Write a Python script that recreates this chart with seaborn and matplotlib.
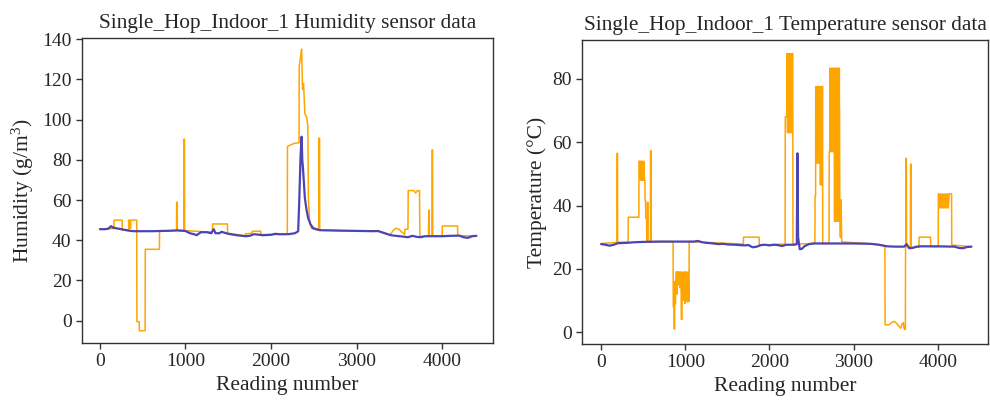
import matplotlib
matplotlib.use("Agg")
import matplotlib.pyplot as plt
import seaborn as sns
import pandas as pd

# Humidity: raw sensor readings (orange) as (reading, value) points
hum_raw = [
    (0, 45.5), (150, 45.8), (165, 45.8), (165, 50), (260, 50), (260, 45),
    (335, 44.8), (335, 50), (345, 50), (345, 46), (360, 46), (360, 50),
    (430, 50), (432, -0.5), (460, -0.5), (460, -5), (528, -5), (530, 35.5),
    (695, 35.5), (697, 44.6), (895, 44.8), (897, 58.9), (903, 58.9),
    (905, 44.9), (980, 44.9), (982, 90.3), (988, 90.3), (990, 44.8),
    (1315, 44), (1317, 48.1), (1490, 48.1), (1492, 43.5), (1700, 42.2),
    (1700, 43.2), (1780, 43.5), (1780, 44.5), (1880, 44.5), (1880, 42.8),
    (2190, 43), (2192, 86.7), (2260, 88), (2300, 88.4), (2327, 88.4),
    (2329, 126.6), (2345, 131), (2357, 135), (2368, 115), (2380, 118),
    (2395, 103), (2415, 101.5), (2430, 97), (2437, 60), (2450, 50),
    (2470, 46), (2500, 45.5), (2557, 45), (2559, 90.8), (2567, 90.8),
    (2569, 45), (2800, 44.8), (3200, 44.5), (3250, 44.6), (3390, 42.6),
    (3430, 45), (3460, 46), (3500, 45.3), (3530, 44), (3560, 43),
    (3565, 45.5), (3600, 45.5), (3603, 64.7), (3670, 64.7), (3690, 63.5),
    (3710, 64.7), (3735, 64.7), (3739, 42), (3840, 42), (3843, 55),
    (3848, 55), (3850, 42), (3880, 42), (3883, 85), (3887, 85), (3890, 42),
    (4000, 42), (4002, 47.1), (4180, 47.1), (4182, 42.3), (4400, 42.2),
]

# Humidity: reference / filtered series (blue)
hum_ref = [
    (0, 45.5), (60, 45.5), (100, 45.8), (130, 47), (160, 46.2), (250, 45.5),
    (350, 44.7), (400, 44.5), (600, 44.5), (800, 44.7), (900, 44.9),
    (1000, 44.6), (1050, 43.5), (1100, 43), (1130, 42.5), (1180, 44),
    (1250, 44), (1300, 43.5), (1330, 45.5), (1350, 43.5), (1400, 43.5),
    (1420, 44.2), (1500, 43.2), (1600, 42.5), (1700, 42), (1750, 42.2),
    (1800, 43), (1850, 42.8), (1900, 42.5), (2000, 42.7), (2050, 43.2),
    (2100, 43), (2200, 43), (2280, 43.5), (2317, 44.5), (2330, 60),
    (2345, 82), (2357, 91.5), (2365, 80), (2376, 74), (2395, 61),
    (2415, 55), (2434, 51), (2460, 48), (2492, 46), (2570, 45),
    (2800, 44.8), (3200, 44.5), (3250, 44.6), (3400, 42.5), (3500, 42),
    (3550, 41.8), (3600, 41.5), (3650, 42.2), (3700, 41.7), (3750, 41.5),
    (3800, 42), (3900, 42), (4000, 42), (4100, 42.2), (4200, 42.3),
    (4250, 41.5), (4300, 41.2), (4350, 42), (4400, 42.2),
]

# Temperature: raw sensor readings (orange)
temp_raw = [
    (0, 28), (188, 28.3), (190, 56.5), (194, 56.5), (196, 28.4), (320, 28.4),
    (322, 36.3), (448, 36.3), (450, 54), (458, 54), (460, 48.5), (464, 54),
    (472, 48), (478, 54), (486, 48), (492, 54), (500, 48), (506, 54),
    (514, 48), (520, 48), (522, 41.5), (528, 41.5), (530, 36), (540, 36),
    (542, 29), (548, 29), (550, 41), (556, 41), (558, 28.6), (585, 28.6),
    (587, 57.3), (592, 57.3), (594, 28.6), (855, 28.6), (857, 8), (865, 8),
    (867, 1), (873, 1), (875, 16), (880, 16), (882, 9), (890, 19), (900, 19),
    (902, 12), (910, 19), (918, 15), (925, 19), (935, 19), (937, 14),
    (945, 19), (950, 16), (953, 4), (960, 4), (963, 15), (970, 19),
    (978, 10), (986, 19), (994, 9), (1002, 19), (1010, 10), (1018, 19),
    (1026, 9.5), (1034, 19), (1040, 9.7), (1044, 9.7), (1046, 28.6),
    (1690, 27.8), (1692, 30), (1877, 30), (1879, 27.5), (2186, 27.8),
    (2188, 68), (2205, 68), (2207, 88), (2215, 63), (2223, 88), (2231, 63),
    (2239, 88), (2247, 63), (2255, 88), (2263, 63), (2271, 88), (2277, 88),
    (2279, 27.8), (2540, 28), (2542, 43), (2548, 43), (2550, 77.6),
    (2558, 53.4), (2566, 77.6), (2574, 53.4), (2582, 77.6), (2590, 53.4),
    (2598, 77.6), (2606, 46.5), (2614, 77.6), (2622, 46.5), (2628, 77.6),
    (2631, 77.6), (2633, 28), (2708, 28), (2710, 57), (2716, 57),
    (2718, 83.4), (2726, 57), (2734, 83.4), (2742, 57), (2750, 83.4),
    (2758, 57), (2766, 83.4), (2774, 35), (2782, 83.4), (2790, 35),
    (2798, 83.4), (2806, 35), (2814, 83.4), (2822, 35), (2828, 83.4),
    (2831, 83.4), (2831, 71), (2833, 71), (2835, 41.8), (2843, 30),
    (2850, 41.8), (2857, 30), (2859, 28.5), (3200, 27.9), (3300, 27.6),
    (3372, 27.2), (3374, 2.3),
    (3420, 2.3), (3450, 3), (3480, 3.4), (3510, 2.8), (3540, 1.8),
    (3560, 1.2), (3575, 2.5), (3590, 3), (3600, 1.2), (3610, 0.8),
    (3615, 0.8), (3617, 27.4), (3621, 27.4), (3623, 54.9), (3627, 54.9),
    (3629, 27), (3675, 27), (3677, 53.1), (3681, 53.1), (3683, 26.8),
    (3776, 26.8), (3778, 30), (3914, 30), (3916, 27), (4005, 27),
    (4007, 43.7), (4015, 43.7), (4025, 39.2), (4035, 43.7), (4045, 39.2),
    (4055, 43.7), (4065, 39.2), (4075, 43.7), (4085, 39.2), (4095, 43.7),
    (4105, 39.2), (4115, 43.7), (4125, 39.2), (4135, 43.7), (4164, 43.7),
    (4166, 27.5), (4400, 27),
]

# Temperature: reference / filtered series (blue)
temp_ref = [
    (0, 27.8), (50, 27.6), (100, 27.3), (150, 27.6), (200, 28.1),
    (300, 28.2), (400, 28.4), (500, 28.5), (700, 28.6), (900, 28.6),
    (1100, 28.6), (1150, 28.8), (1200, 28.4), (1250, 28.2), (1300, 28.1),
    (1400, 27.8), (1450, 27.9), (1500, 27.7), (1600, 27.6), (1700, 27.4),
    (1750, 27.5), (1800, 26.8), (1850, 27), (1900, 27.5), (1950, 27.6),
    (2000, 27.4), (2050, 27.6), (2100, 27.5), (2150, 27.2), (2200, 27.6),
    (2300, 27.6), (2325, 27.8), (2332, 56.5), (2340, 30), (2360, 26.2),
    (2384, 26.3), (2420, 27.2), (2470, 27.8), (2520, 28), (2700, 28),
    (3000, 28), (3200, 27.9), (3300, 27.6), (3400, 27.1), (3500, 27),
    (3600, 27), (3630, 27.8), (3660, 26.5), (3700, 26.6), (3750, 27),
    (3800, 27.1), (4000, 27.1), (4200, 27), (4250, 26.6), (4300, 26.5),
    (4350, 26.9), (4400, 27),
]

raw_color = "#FFA500"
ref_color = "#4A44B4"

sns.set_theme(style="ticks")
plt.rcParams["font.family"] = ["Liberation Serif", "DejaVu Serif"]
plt.rcParams["axes.edgecolor"] = "#333333"

fig = plt.figure(figsize=(9.9, 4.04), dpi=100)
ax1 = fig.add_axes([0.0828, 0.151, 0.415, 0.755])
ax2 = fig.add_axes([0.588, 0.149, 0.410, 0.752])


def draw(ax, raw, ref):
    df_raw = pd.DataFrame(raw, columns=["reading", "value"])
    df_ref = pd.DataFrame(ref, columns=["reading", "value"])
    sns.lineplot(data=df_raw, x="reading", y="value", ax=ax, sort=False,
                 estimator=None, color=raw_color, linewidth=1.1)
    sns.lineplot(data=df_ref, x="reading", y="value", ax=ax, sort=False,
                 estimator=None, color=ref_color, linewidth=1.6)


draw(ax1, hum_raw, hum_ref)
ax1.set_xlim(-210, 4592)
ax1.set_ylim(-11.1, 140.6)
ax1.set_yticks([0, 20, 40, 60, 80, 100, 120, 140])
ax1.set_xticks([0, 1000, 2000, 3000, 4000])
ax1.set_title("Single_Hop_Indoor_1 Humidity sensor data", fontsize=15.3, pad=7)
ax1.set_xlabel("Reading number", fontsize=15.5)
ax1.set_ylabel("Humidity (g/m$\\mathregular{^3}$)", fontsize=15.5)

draw(ax2, temp_raw, temp_ref)
ax2.set_xlim(-226, 4597)
ax2.set_ylim(-3.7, 92.3)
ax2.set_yticks([0, 20, 40, 60, 80])
ax2.set_xticks([0, 1000, 2000, 3000, 4000])
ax2.set_title("Single_Hop_Indoor_1 Temperature sensor data", fontsize=15.3, pad=7)
ax2.set_xlabel("Reading number", fontsize=15.5)
ax2.set_ylabel("Temperature (°C)", fontsize=15.5)

for ax in (ax1, ax2):
    ax.tick_params(labelsize=14, length=4, width=1, color="#333333")
    for s in ax.spines.values():
        s.set_linewidth(1.0)

fig.savefig("out.png", dpi=100)
